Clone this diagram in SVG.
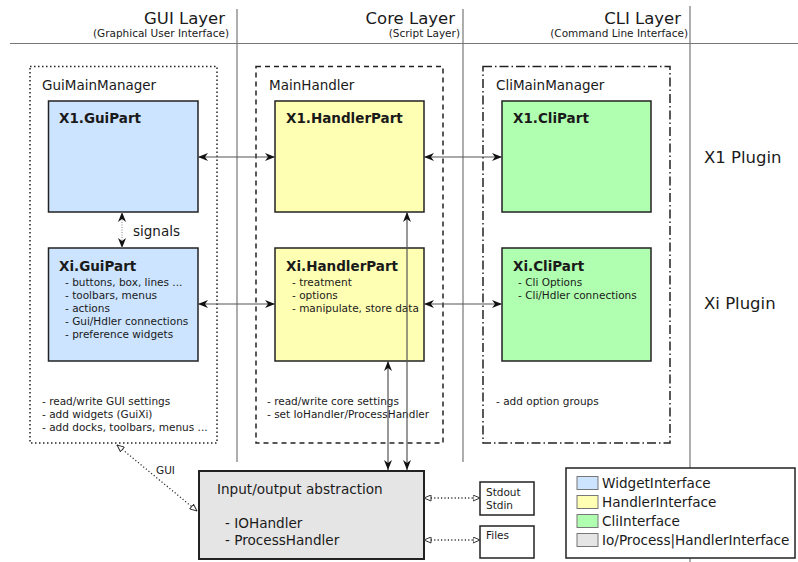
<svg xmlns="http://www.w3.org/2000/svg" width="798" height="562" viewBox="0 0 798 562">
<style>
text{font-family:"DejaVu Sans","Liberation Sans",sans-serif;fill:#1a1a1a}
.ttl{font-size:16.5px}
.sub{font-size:10.5px}
.lbl{font-size:13.5px}
.bold{font-size:13.5px;font-weight:bold}
.sm{font-size:10.5px}
.leg{font-size:13.6px}
.io-t{font-size:13.6px}
.part{stroke:#222;stroke-width:1.5}
.gui{fill:#cce4ff}
.hdl{fill:#ffffb3}
.cli{fill:#b0ffb0}
.io{fill:#e5e5e5}
.sep{stroke:#777;stroke-width:1.2}
.conn{stroke:#555;stroke-width:1.2;fill:none}
</style>
<defs>
<marker id="ah" viewBox="0 0 10 8" refX="10" refY="4" markerWidth="10" markerHeight="8" markerUnits="userSpaceOnUse" orient="auto-start-reverse">
<path d="M0,0 L10,4 L0,8 L3,4 z" fill="#111"/>
</marker>
<marker id="oh" viewBox="0 0 8 7" refX="7.5" refY="3.5" markerWidth="8" markerHeight="7" markerUnits="userSpaceOnUse" orient="auto-start-reverse">
<path d="M0.5,0.5 L7.5,3.5 L0.5,6.5 z" fill="#fff" stroke="#333" stroke-width="1"/>
</marker>
</defs>

<g id="layers">
<line class="sep" x1="10" y1="43.5" x2="798" y2="43.5"/>
<line class="sep" x1="237" y1="9" x2="237" y2="462"/>
<line class="sep" x1="463" y1="9" x2="463" y2="462"/>
<line class="sep" x1="690" y1="6" x2="690" y2="562"/>
<text class="ttl" x="225" y="24" text-anchor="end">GUI Layer</text>
<text class="sub" x="229" y="37" text-anchor="end">(Graphical User Interface)</text>
<text class="ttl" x="455" y="24" text-anchor="end">Core Layer</text>
<text class="sub" x="460" y="37" text-anchor="end">(Script Layer)</text>
<text class="ttl" x="681" y="24" text-anchor="end">CLI Layer</text>
<text class="sub" x="688" y="37" text-anchor="end">(Command Line Interface)</text>
<text class="ttl" x="704" y="163">X1 Plugin</text>
<text class="ttl" x="704" y="309">Xi Plugin</text>
</g>

<g id="GuiMainManager">
<rect x="30" y="66.5" width="187" height="376.5" fill="none" stroke="#222" stroke-width="1.5" stroke-dasharray="1.5,2.5"/>
<text class="lbl" x="42" y="90">GuiMainManager</text>
<text class="sm" x="42" y="405">- read/write GUI settings</text>
<text class="sm" x="42" y="418">- add widgets (GuiXi)</text>
<text class="sm" x="42" y="431">- add docks, toolbars, menus ...</text>
</g>

<g id="MainHandler">
<rect x="256" y="66.5" width="187" height="376.5" fill="none" stroke="#222" stroke-width="1.5" stroke-dasharray="5,4"/>
<text class="lbl" x="269" y="90">MainHandler</text>
<text class="sm" x="267" y="405">- read/write core settings</text>
<text class="sm" x="267" y="418">- set IoHandler/ProcessHandler</text>
</g>

<g id="CliMainManager">
<rect x="483" y="66.5" width="187" height="376.5" fill="none" stroke="#222" stroke-width="1.5" stroke-dasharray="9,3,1.5,3"/>
<text class="lbl" x="496" y="90">CliMainManager</text>
<text class="sm" x="496" y="405">- add option groups</text>
</g>

<g id="X1.GuiPart">
<rect class="part gui" x="48.5" y="101" width="149.5" height="111"/>
<text class="bold" x="59" y="123">X1.GuiPart</text>
</g>
<g id="Xi.GuiPart">
<rect class="part gui" x="48.5" y="248" width="149.5" height="113"/>
<text class="bold" x="59" y="271">Xi.GuiPart</text>
<text class="sm" x="65" y="286">- buttons, box, lines ...</text>
<text class="sm" x="65" y="299">- toolbars, menus</text>
<text class="sm" x="65" y="312">- actions</text>
<text class="sm" x="65" y="325">- Gui/Hdler connections</text>
<text class="sm" x="65" y="338">- preference widgets</text>
</g>

<g id="X1.HandlerPart">
<rect class="part hdl" x="275" y="101" width="149" height="111"/>
<text class="bold" x="286" y="123">X1.HandlerPart</text>
</g>
<g id="Xi.HandlerPart">
<rect class="part hdl" x="275" y="248" width="149" height="113"/>
<text class="bold" x="286" y="271">Xi.HandlerPart</text>
<text class="sm" x="292" y="286">- treatment</text>
<text class="sm" x="292" y="299">- options</text>
<text class="sm" x="292" y="312">- manipulate, store data</text>
</g>

<g id="X1.CliPart">
<rect class="part cli" x="502" y="101" width="149" height="111"/>
<text class="bold" x="513" y="123">X1.CliPart</text>
</g>
<g id="Xi.CliPart">
<rect class="part cli" x="502" y="248" width="149" height="113"/>
<text class="bold" x="513" y="271">Xi.CliPart</text>
<text class="sm" x="518" y="286">- Cli Options</text>
<text class="sm" x="518" y="299">- Cli/Hdler connections</text>
</g>

<g id="IOAbstraction">
<rect class="io" x="199" y="471" width="225" height="88" stroke="#222" stroke-width="2"/>
<text class="io-t" x="217" y="494">Input/output abstraction</text>
<text class="io-t" x="225" y="528">- IOHandler</text>
<text class="io-t" x="225" y="545">- ProcessHandler</text>
</g>

<g id="StdoutStdin">
<rect x="480" y="482" width="54" height="33" fill="#fff" stroke="#222" stroke-width="1.5"/>
<text class="sub" x="486" y="496">Stdout</text>
<text class="sub" x="486" y="509">Stdin</text>
</g>
<g id="Files">
<rect x="480" y="526" width="54" height="32" fill="#fff" stroke="#222" stroke-width="1.5"/>
<text class="sub" x="486" y="539">Files</text>
</g>

<g id="connectors">
<line class="conn" x1="198" y1="157" x2="275" y2="157" marker-start="url(#ah)" marker-end="url(#ah)"/>
<line class="conn" x1="424" y1="157" x2="502" y2="157" marker-start="url(#ah)" marker-end="url(#ah)"/>
<line class="conn" x1="198" y1="304" x2="275" y2="304" marker-start="url(#ah)" marker-end="url(#ah)"/>
<line class="conn" x1="424" y1="304" x2="502" y2="304" marker-start="url(#ah)" marker-end="url(#ah)"/>
<line x1="122" y1="212" x2="122" y2="248" stroke="#999" stroke-width="1.2" stroke-dasharray="1,1.5" marker-start="url(#ah)" marker-end="url(#ah)"/>
<text class="lbl" x="133" y="236">signals</text>
<line class="conn" x1="407" y1="212" x2="407" y2="470" stroke="#777" marker-start="url(#ah)" marker-end="url(#ah)"/>
<line class="conn" x1="388" y1="361" x2="388" y2="470" stroke="#333" marker-start="url(#ah)" marker-end="url(#ah)"/>
<line x1="117" y1="445" x2="197" y2="511" stroke="#333" stroke-width="1.3" stroke-dasharray="1.2,2.2" marker-start="url(#oh)" marker-end="url(#oh)"/>
<text class="sub" x="156" y="474">GUI</text>
<line x1="424" y1="498" x2="480" y2="498" stroke="#333" stroke-width="1.3" stroke-dasharray="1.2,2.2" marker-start="url(#oh)" marker-end="url(#oh)"/>
<line x1="424" y1="540" x2="480" y2="540" stroke="#333" stroke-width="1.3" stroke-dasharray="1.2,2.2" marker-start="url(#oh)" marker-end="url(#oh)"/>
</g>

<g id="legend">
<rect x="566" y="468" width="229" height="90" fill="#fff" stroke="#222" stroke-width="1.5"/>
<rect class="gui" x="577" y="476.5" width="21" height="13" stroke="#777"/>
<rect class="hdl" x="577" y="495.5" width="21" height="13" stroke="#777"/>
<rect class="cli" x="577" y="514.5" width="21" height="13" stroke="#777"/>
<rect class="io" x="577" y="533.5" width="21" height="13" stroke="#777"/>
<text class="leg" x="602" y="488">WidgetInterface</text>
<text class="leg" x="602" y="507">HandlerInterface</text>
<text class="leg" x="602" y="526">CliInterface</text>
<text class="leg" x="602" y="545">Io/Process|HandlerInterface</text>
</g>
</svg>
